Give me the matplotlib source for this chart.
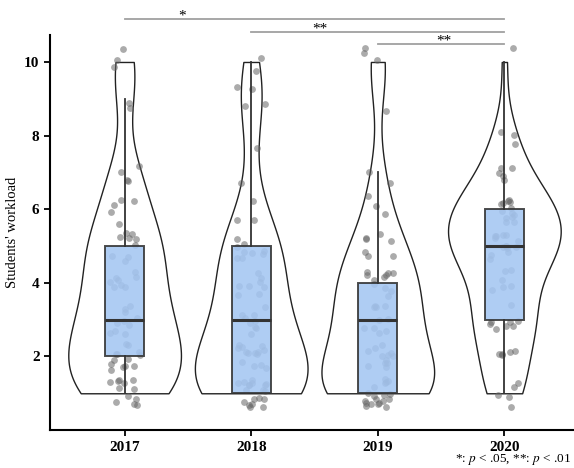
import numpy as np
import matplotlib
matplotlib.use('Agg')
import matplotlib.pyplot as plt

plt.rcParams['font.family'] = ['Liberation Serif', 'DejaVu Serif']
plt.rcParams['mathtext.fontset'] = 'stix'

# data: number of students giving each workload score (1..10), per year
years = ['2017', '2018', '2019', '2020']
scores = [1, 2, 3, 4, 5, 6, 7, 8, 9, 10]
counts_2017 = [12, 13, 10, 8, 9, 5, 4, 0, 2, 3]
counts_2018 = [19, 14, 9, 8, 9, 3, 1, 1, 4, 2]
counts_2019 = [19, 12, 10, 11, 7, 3, 2, 0, 1, 3]
counts_2020 = [5, 5, 8, 6, 14, 13, 5, 3, 0, 1]

# significance comparisons: (group a, group b, label)
sig_pairs = [(0, 3, '*'), (1, 3, '**'), (2, 3, '**')]
sig_heights = [11.17, 10.82, 10.49]
sig_label_x = [0.45, 1.54, 2.52]

all_counts = [counts_2017, counts_2018, counts_2019, counts_2020]
data = [np.repeat(scores, c).astype(float) for c in all_counts]
pos = np.arange(len(years))


def nrd0(kde):
    # R's default bandwidth, expressed as a factor of the sd
    d = kde.dataset.ravel()
    sd = d.std(ddof=1)
    q75, q25 = np.percentile(d, [75, 25])
    h = 0.9 * min(sd, (q75 - q25) / 1.34) * len(d) ** -0.2
    return h / sd


fig = plt.figure(figsize=(5.74, 4.68), dpi=100)
ax = fig.add_axes([0.087, 0.081, 0.913, 0.844])

# violins
vp = ax.violinplot(data, positions=pos, widths=0.89, showextrema=False,
                   bw_method=nrd0, points=200)
for b in vp['bodies']:
    b.set_facecolor('white')
    b.set_edgecolor('#222222')
    b.set_linewidth(1.0)
    b.set_alpha(1)
    b.set_zorder(1)

# jittered points (jitter only affects display position)
rng = np.random.default_rng(7)
for i, d in enumerate(data):
    xj = pos[i] + rng.uniform(-0.12, 0.12, len(d))
    yj = d + rng.uniform(-0.4, 0.4, len(d))
    ax.scatter(xj, yj, s=24, color='#666666', alpha=0.55, linewidths=0,
               zorder=2)

# boxes
bp = ax.boxplot(data, positions=pos, widths=0.31, patch_artist=True,
                showfliers=False, showcaps=False, whis=1.5, zorder=3,
                boxprops=dict(facecolor='#a4c6f2', edgecolor='#333333',
                              linewidth=1.4, alpha=0.88),
                whiskerprops=dict(color='#333333', linewidth=1.3),
                medianprops=dict(color='#333333', linewidth=2.2))
for b in bp['boxes']:
    b.set_edgecolor('#333333')

# significance bars
for (a, b, lab), h, tx in zip(sig_pairs, sig_heights, sig_label_x):
    ax.plot([pos[a], pos[b]], [h, h], color='#a0a0a0', linewidth=1.3,
            clip_on=False, zorder=4)
    ax.text(tx, h - 0.02, lab, ha='center', va='baseline', fontsize=11,
            clip_on=False)

ax.set_xlim(-0.59, 3.55)
ax.set_ylim(0, 10.73)
ax.set_xticks(pos)
ax.set_xticklabels(years, fontweight='bold', fontsize=11)
ax.set_yticks([2, 4, 6, 8, 10])
ax.set_yticklabels(['2', '4', '6', '8', '10'], fontweight='bold', fontsize=11)
ax.set_ylabel("Students' workload", fontsize=10.5)
ax.tick_params(axis='both', direction='out', length=4, width=1.3, color='black')
for s in ['top', 'right']:
    ax.spines[s].set_visible(False)
for s in ['left', 'bottom']:
    ax.spines[s].set_linewidth(1.5)

fig.text(0.996, 0.018, '*: $p$ < .05, **: $p$ < .01', fontsize=9.5,
         ha='right', va='center')

fig.savefig('out.png', dpi=100)
